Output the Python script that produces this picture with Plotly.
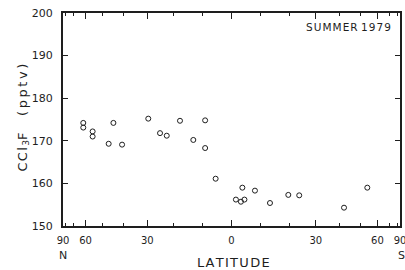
import numpy as np
import plotly.graph_objects as go

# Latitude in degrees (positive = north, negative = south) and CCl3F mixing ratio (pptv)
latitude = [61.6, 61.6, 55.5, 55.5, 44.5, 46.8, 40.5, 29.6, 25.1, 22.6, 17.8, 13.1,
            9.0, 9.0, 5.4, -1.5, -3.2, -4.4, -3.7, -8.0, -13.2, -19.7, -23.7, -41.9, -53.7]
ccl3f = [174.2, 173.1, 172.2, 171.0, 174.2, 169.3, 169.1, 175.2, 171.8, 171.2, 174.7, 170.2,
         174.8, 168.3, 161.1, 156.2, 155.7, 156.2, 159.0, 158.3, 155.4, 157.3, 157.2, 154.3, 159.0]

major_lat = [90, 60, 30, 0, -30, -60, -90]
major_labels = ["90", "60", "30", "0", "30", "60", "90"]
minor_lat = [80, 70, 50, 40, 20, 10, -10, -20, -40, -50, -70, -80]
y_ticks = [150, 160, 170, 180, 190, 200]

def to_x(lat):
    # area-weighted (sine of latitude) axis, north on the left
    return -np.sin(np.radians(np.array(lat, dtype=float)))

def spaced(s, sp="\u200a"):
    return sp.join(s)

ink = "#1e1e1e"
fam = "DejaVu Sans, Liberation Sans, sans-serif"
xfont = dict(family=fam, size=10, color=ink)
yfont = dict(family=fam, size=11, color=ink)

fig = go.Figure()
fig.add_trace(go.Scatter(
    x=to_x(latitude), y=ccl3f, mode="markers",
    marker=dict(symbol="circle-open", size=5, color=ink, line=dict(width=1, color=ink)),
    showlegend=False, cliponaxis=False, hoverinfo="skip",
))

ytitle = ("C\u200aC\u200al\u200a<sub>3</sub>F" + "\u00a0" * 4 +
          "(\u2009p\u2009p\u2009t\u2009v\u2009)")

fig.update_layout(
    width=405, height=270,
    margin=dict(l=63, r=5, t=13, b=43.5, autoexpand=False),
    paper_bgcolor="white", plot_bgcolor="white",
    font=xfont,
    xaxis=dict(
        range=[-1, 1], tickvals=list(to_x(major_lat)), ticktext=major_labels,
        ticks="inside", ticklen=6, tickwidth=1, tickcolor=ink,
        minor=dict(tickvals=list(to_x(minor_lat)), ticks="inside", ticklen=3, tickcolor=ink, tickwidth=1),
        showline=True, linewidth=1.5, linecolor=ink, mirror="ticks",
        showgrid=False, zeroline=False, tickfont=xfont, ticklabelstandoff=4,
        ticklabeloverflow="allow", automargin=False,
    ),
    yaxis=dict(
        range=[150, 200], tickvals=y_ticks,
        ticks="inside", ticklen=5, tickwidth=1, tickcolor=ink,
        showline=True, linewidth=2, linecolor=ink, mirror="ticks",
        showgrid=False, zeroline=False, tickfont=yfont, ticklabelstandoff=6,
        ticklabeloverflow="allow", automargin=False,
    ),
    annotations=[
        dict(text=spaced("SUMMER") + " " + spaced("1979"), xref="paper", yref="paper",
             x=1, y=1, xshift=-7, yshift=-14,
             xanchor="right", yanchor="middle", showarrow=False,
             font=dict(size=10.5, family=fam, color=ink)),
        dict(text=ytitle, xref="paper", yref="paper", x=0, y=0.5, xshift=-40, yshift=2,
             textangle=-90, showarrow=False, xanchor="center", yanchor="middle",
             font=dict(size=13, family=fam, color=ink)),
        dict(text="N", xref="paper", yref="paper", x=0, y=0, yshift=-29, xanchor="center", yanchor="middle",
             showarrow=False, font=dict(size=11, family=fam, color=ink)),
        dict(text="S", xref="paper", yref="paper", x=1, y=0, xshift=1, yshift=-29, xanchor="center", yanchor="middle",
             showarrow=False, font=dict(size=11, family=fam, color=ink)),
        dict(text=spaced("LATITUDE"), xref="paper", yref="paper", x=0.5, y=0, xshift=2, yshift=-36,
             xanchor="center", yanchor="middle",
             showarrow=False, font=dict(size=13, family=fam, color=ink)),
    ],
)

# remove the browser's default page margin so the 405x270 figure fills the window exactly
fig.write_html("out.html",
               config={"displayModeBar": False},
               post_script="document.body.style.margin='0';document.body.style.overflow='hidden';")
